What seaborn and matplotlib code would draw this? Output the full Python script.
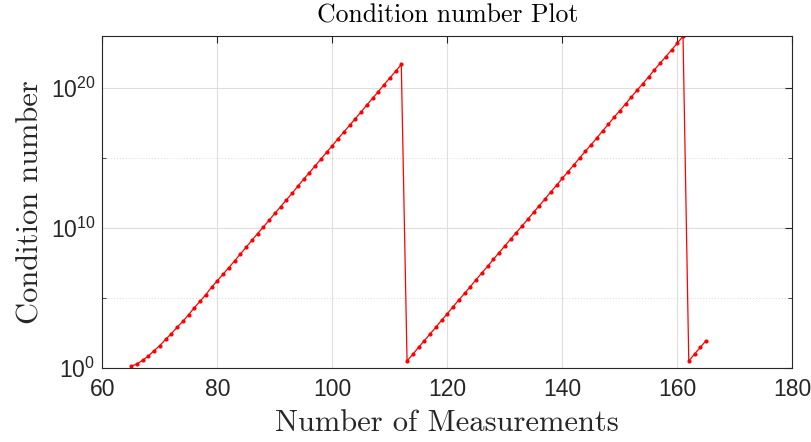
import numpy as np
import pandas as pd
import matplotlib
matplotlib.use("Agg")
import matplotlib.pyplot as plt
import matplotlib.ticker as mticker
import seaborn as sns

measurements = list(range(65, 166))
log10_condition = [
    # 65 .. 112
    0.14, 0.30, 0.56, 0.87, 1.25, 1.61, 2.06, 2.46, 2.92, 3.34,
    3.82, 4.32, 4.78, 5.25, 5.78, 6.25, 6.71, 7.18, 7.66,
    8.15, 8.63, 9.13, 9.61, 10.08, 10.56, 11.06, 11.53, 12.01, 12.49,
    12.99, 13.49, 13.96, 14.44, 14.92, 15.42,
    15.89, 16.39, 16.87, 17.34, 17.82, 18.30, 18.80, 19.28, 19.75,
    20.25, 20.73, 21.20, 21.70,
    # 113 .. 161
    0.51, 0.99, 1.49, 1.96, 2.44, 2.92, 3.42, 3.89, 4.39, 4.87,
    5.34, 5.82, 6.32, 6.80, 7.27, 7.77, 8.25, 8.73, 9.21,
    9.68, 10.16, 10.63, 11.13, 11.61, 12.09, 12.59, 13.06, 13.56, 14.04,
    14.51, 15.01, 15.49, 15.96, 16.44, 16.94,
    17.42, 17.92, 18.39, 18.87, 19.37, 19.85, 20.32, 20.80, 21.30,
    21.78, 22.25, 22.73, 23.21, 23.71,
    # 162 .. 165
    0.51, 1.01, 1.49, 1.96,
]
condition_number = [10.0 ** v for v in log10_condition]

x_ticks = [60, 80, 100, 120, 140, 160, 180]
y_major_ticks = [1e0, 1e10, 1e20]
y_minor_ticks = [1e5, 1e15]

df = pd.DataFrame({"Number of Measurements": measurements,
                   "Condition number": condition_number})

sns.set_theme(style="white")
plt.rcParams["font.family"] = ["Liberation Sans", "DejaVu Sans"]
plt.rcParams["mathtext.fontset"] = "custom"
plt.rcParams["mathtext.rm"] = "Liberation Sans"
plt.rcParams["mathtext.it"] = "Liberation Sans:italic"
plt.rcParams["axes.formatter.use_mathtext"] = True

fig = plt.figure(figsize=(8.12, 4.42), dpi=100)
ax = fig.add_axes([0.126, 0.167, 0.8497, 0.751])

sns.lineplot(data=df, x="Number of Measurements", y="Condition number",
             ax=ax, color="#ff0000", linewidth=0.9, marker="o",
             markersize=3.0, markeredgewidth=0, estimator=None, sort=False)

ax.set_yscale("log")
ax.set_xlim(60, 180)
ax.set_ylim(1, max(condition_number))

ax.set_xticks(x_ticks)
ax.set_xticklabels([str(t) for t in x_ticks])
ax.yaxis.set_major_locator(mticker.FixedLocator(y_major_ticks))
ax.yaxis.set_minor_locator(mticker.FixedLocator(y_minor_ticks))
ax.set_yticklabels([r"$10^{%d}$" % int(np.log10(t)) for t in y_major_ticks])
ax.yaxis.set_minor_formatter(mticker.NullFormatter())

ax.grid(True, which="major", color="#dedede", linewidth=0.8, linestyle="-")
ax.grid(True, which="minor", axis="y", color="#d8d8d8", linewidth=0.7, linestyle=(0, (1, 2)))
ax.set_axisbelow(True)

ax.tick_params(axis="both", which="major", direction="in", length=5, width=0.8,
               colors="#262626", labelsize=16.5, top=True, right=True,
               labelcolor="#262626")
ax.tick_params(axis="x", which="major", pad=7)
ax.tick_params(axis="y", which="major", pad=5)
ax.tick_params(axis="y", which="minor", direction="in", length=3, width=0.6,
               colors="#262626", left=True, right=True)
for s in ax.spines.values():
    s.set_visible(True)
    s.set_color("#262626")
    s.set_linewidth(0.8)

ax.set_title("Condition number Plot", fontfamily="cmr10", fontsize=18.5,
             color="black", pad=10)
ax.set_xlabel("Number of Measurements", fontfamily="cmr10", fontsize=22,
              color="#262626", labelpad=6)
ax.set_ylabel("Condition number", fontfamily="cmr10", fontsize=22,
              color="#262626", labelpad=4)

fig.savefig("out.png", dpi=100)
